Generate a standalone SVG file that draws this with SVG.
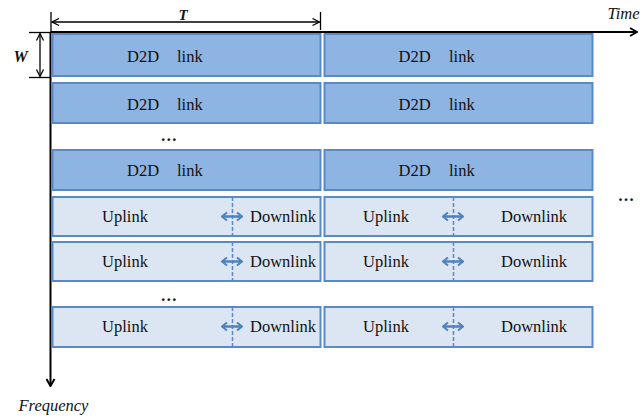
<svg xmlns="http://www.w3.org/2000/svg" width="641" height="418" viewBox="0 0 641 418">
<defs>
<style>
.d2d{fill:#8EB4E3;stroke:#5A89C5;stroke-width:2}
.ul{fill:#DCE6F2;stroke:#5A89C5;stroke-width:2}
.t{font-family:"Liberation Serif","Times New Roman",serif;font-size:16.5px;fill:#111}
.it{font-family:"Liberation Serif","Times New Roman",serif;font-size:16.5px;font-style:italic;fill:#111}
.bi{font-family:"Liberation Serif","Times New Roman",serif;font-weight:bold;font-style:italic;fill:#111}
.dash{stroke:#5A89C5;stroke-width:1.5;stroke-dasharray:4 2;fill:none}
.axis{stroke:#000;stroke-width:2;fill:none}
.dim{stroke:#000;stroke-width:1.3;fill:none}
.dbl{stroke:#4F81BD;stroke-width:2.5;fill:none;marker-start:url(#bs);marker-end:url(#be)}
</style>
<marker id="ax" viewBox="0 0 10 10" refX="9" refY="5" markerWidth="10" markerHeight="10" markerUnits="userSpaceOnUse" orient="auto">
<path d="M2,1 L9,5 L2,9" fill="none" stroke="#000" stroke-width="2"/>
</marker>
<marker id="de" viewBox="0 0 10 10" refX="9" refY="5" markerWidth="10" markerHeight="10" markerUnits="userSpaceOnUse" orient="auto">
<path d="M2,1.5 L9,5 L2,8.5" fill="none" stroke="#000" stroke-width="1.3"/>
</marker>
<marker id="ds" viewBox="0 0 10 10" refX="1" refY="5" markerWidth="10" markerHeight="10" markerUnits="userSpaceOnUse" orient="auto">
<path d="M8,1.5 L1,5 L8,8.5" fill="none" stroke="#000" stroke-width="1.3"/>
</marker>
<marker id="be" viewBox="0 0 10 10" refX="9" refY="5" markerWidth="10" markerHeight="10" markerUnits="userSpaceOnUse" orient="auto">
<path d="M4,1 L9,5 L4,9" fill="none" stroke="#4F81BD" stroke-width="2"/>
</marker>
<marker id="bs" viewBox="0 0 10 10" refX="1" refY="5" markerWidth="10" markerHeight="10" markerUnits="userSpaceOnUse" orient="auto">
<path d="M6,1 L1,5 L6,9" fill="none" stroke="#4F81BD" stroke-width="2"/>
</marker>
</defs>

<g id="axes">
<line class="axis" x1="50.5" y1="32" x2="637" y2="32" marker-end="url(#ax)"/>
<line class="axis" x1="50.5" y1="32" x2="50.5" y2="386" marker-end="url(#ax)"/>
<text class="it" x="607.5" y="19">Time</text>
<text class="it" x="18.5" y="411">Frequency</text>
</g>

<g id="dim-T">
<line class="dim" x1="51" y1="12" x2="51" y2="32"/>
<line class="dim" x1="320.5" y1="12" x2="320.5" y2="30"/>
<line class="dim" x1="52" y1="22" x2="319.5" y2="22" marker-start="url(#ds)" marker-end="url(#de)"/>
<text class="bi" x="183" y="20" font-size="15" text-anchor="middle">T</text>
</g>

<g id="dim-W">
<line class="dim" x1="29" y1="32.5" x2="50" y2="32.5"/>
<line class="dim" x1="29" y1="77.5" x2="50" y2="77.5"/>
<line class="dim" x1="40" y1="33.5" x2="40" y2="76.5" marker-start="url(#ds)" marker-end="url(#de)"/>
<text class="bi" x="20.5" y="61.5" font-size="16" text-anchor="middle">W</text>
</g>

<g id="d2d-r1-a"><rect class="d2d" x="52.5" y="34" width="268" height="42"/><text class="t" y="62"><tspan x="127">D2D</tspan><tspan x="177">link</tspan></text></g>
<g id="d2d-r1-b"><rect class="d2d" x="324.5" y="34" width="268" height="42"/><text class="t" y="62"><tspan x="398.5">D2D</tspan><tspan x="449">link</tspan></text></g>
<g id="d2d-r2-a"><rect class="d2d" x="52.5" y="83" width="268" height="40"/><text class="t" y="110"><tspan x="127">D2D</tspan><tspan x="177">link</tspan></text></g>
<g id="d2d-r2-b"><rect class="d2d" x="324.5" y="83" width="268" height="40"/><text class="t" y="110"><tspan x="398.5">D2D</tspan><tspan x="449">link</tspan></text></g>
<g id="d2d-r3-a"><rect class="d2d" x="52.5" y="150" width="268" height="40"/><text class="t" y="176"><tspan x="127">D2D</tspan><tspan x="177">link</tspan></text></g>
<g id="d2d-r3-b"><rect class="d2d" x="324.5" y="150" width="268" height="40"/><text class="t" y="176"><tspan x="398.5">D2D</tspan><tspan x="449">link</tspan></text></g>

<g id="ul-r4-a"><rect class="ul" x="52.5" y="197" width="268" height="39"/><line class="dash" x1="232.5" y1="197" x2="232.5" y2="236"/><text class="t" x="125" y="222" text-anchor="middle">Uplink</text><text class="t" x="283" y="222" text-anchor="middle">Downlink</text></g>
<g id="ul-r4-b"><rect class="ul" x="324.5" y="197" width="268" height="39"/><line class="dash" x1="453.5" y1="197" x2="453.5" y2="236"/><text class="t" x="386" y="222" text-anchor="middle">Uplink</text><text class="t" x="534" y="222" text-anchor="middle">Downlink</text></g>
<g id="ul-r5-a"><rect class="ul" x="52.5" y="242" width="268" height="39"/><line class="dash" x1="232.5" y1="242" x2="232.5" y2="281"/><text class="t" x="125" y="267" text-anchor="middle">Uplink</text><text class="t" x="283" y="267" text-anchor="middle">Downlink</text></g>
<g id="ul-r5-b"><rect class="ul" x="324.5" y="242" width="268" height="39"/><line class="dash" x1="453.5" y1="242" x2="453.5" y2="281"/><text class="t" x="386" y="267" text-anchor="middle">Uplink</text><text class="t" x="534" y="267" text-anchor="middle">Downlink</text></g>
<g id="ul-r6-a"><rect class="ul" x="52.5" y="307" width="268" height="40"/><line class="dash" x1="232.5" y1="307" x2="232.5" y2="347"/><text class="t" x="125" y="332" text-anchor="middle">Uplink</text><text class="t" x="283" y="332" text-anchor="middle">Downlink</text></g>
<g id="ul-r6-b"><rect class="ul" x="324.5" y="307" width="268" height="40"/><line class="dash" x1="453.5" y1="307" x2="453.5" y2="347"/><text class="t" x="386" y="332" text-anchor="middle">Uplink</text><text class="t" x="534" y="332" text-anchor="middle">Downlink</text></g>

<g id="connectors">
<line class="dbl" x1="222" y1="216.5" x2="242" y2="216.5"/>
<line class="dbl" x1="443" y1="216.5" x2="463" y2="216.5"/>
<line class="dbl" x1="222" y1="261.5" x2="242" y2="261.5"/>
<line class="dbl" x1="443" y1="261.5" x2="463" y2="261.5"/>
<line class="dbl" x1="222" y1="326.5" x2="242" y2="326.5"/>
<line class="dbl" x1="443" y1="326.5" x2="463" y2="326.5"/>
</g>

<g id="ellipses">
<text class="t" x="168.7" y="141" text-anchor="middle" font-weight="bold">…</text>
<text class="t" x="168.7" y="300.5" text-anchor="middle" font-weight="bold">…</text>
<text class="t" x="626" y="200.5" text-anchor="middle" font-weight="bold">…</text>
</g>
</svg>
